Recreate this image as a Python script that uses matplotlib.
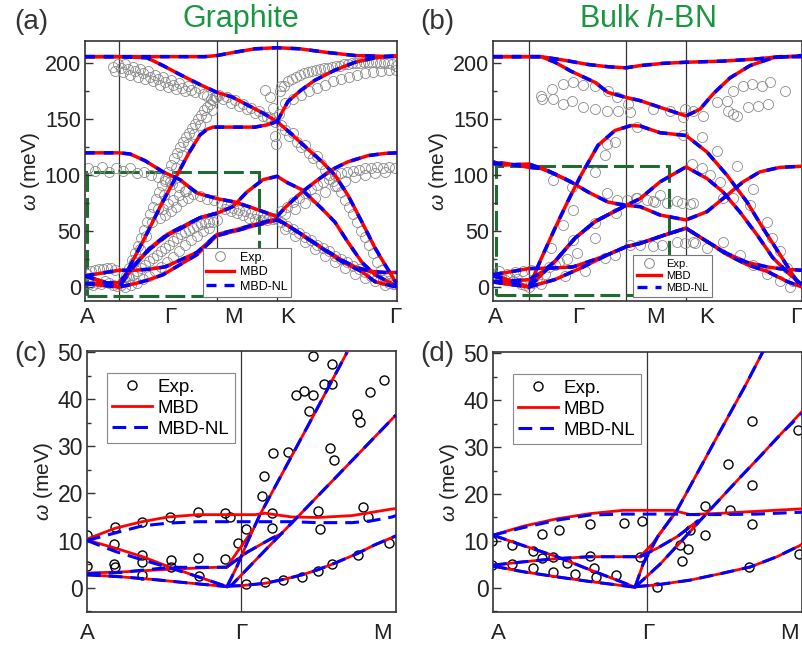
import matplotlib
matplotlib.use('Agg')
import matplotlib.pyplot as plt
from matplotlib.lines import Line2D
from matplotlib.patches import Rectangle
from matplotlib.ticker import MultipleLocator

plt.rcParams['font.family'] = ['Liberation Sans', 'DejaVu Sans']
plt.rcParams['mathtext.fontset'] = 'custom'
plt.rcParams['mathtext.rm'] = 'Liberation Sans'
plt.rcParams['mathtext.it'] = 'Liberation Sans:italic'

# ---------------- (a) graphite, path A-G-M-K-G (k in arbitrary path units) ----------------
a_sym_k = [34, 132, 192]
a_lab_k = [2, 85, 148, 203, 310]
a_labels = ['A', 'Γ', 'M', 'K', 'Γ']

a_bands = [
    ([0, 34, 80, 120, 132, 150, 170, 192, 215, 240, 270, 312],
     [206, 206, 206, 206, 207, 210, 213, 214, 213, 210, 207, 206]),
    ([0, 34, 62, 78, 95, 115, 132, 147, 162, 177, 192, 203, 216, 230, 250, 270, 290, 312],
     [206, 206, 205, 198, 190, 181, 174, 170, 163, 156, 148, 166, 176, 185, 194, 201, 205, 207]),
    ([0, 34, 48, 62, 77, 92, 104, 115, 122, 128, 132, 150, 170, 182, 192, 205, 217, 237, 250, 263, 277, 290, 300, 307, 312],
     [10, 0, 24, 48, 75, 100, 120, 136, 141, 143, 143, 143, 143, 145, 148, 138, 128, 112, 100, 82, 58, 35, 20, 10, 2]),
    ([0, 34, 45, 60, 78, 95, 112, 132, 150, 170, 192, 200, 217, 230, 247, 263, 283, 300, 312],
     [120, 120, 119, 113, 103, 96, 84, 79, 76, 70, 63, 71, 85, 94, 105, 112, 117.5, 119.5, 120]),
    ([0, 34, 50, 65, 82, 95, 115, 132, 148, 162, 178, 192, 203, 217, 237, 250, 263, 277, 290, 307, 312],
     [3, 0, 20, 35, 47, 53, 62, 66, 72, 85, 96, 99, 93, 87, 70, 58, 40, 22, 11, 3, 0]),
    ([0, 34, 50, 62, 78, 95, 112, 120, 132, 150, 170, 192, 203, 217, 237, 257, 277, 290, 312],
     [10, 0, 3, 6, 11, 20, 29, 36, 46, 50, 55, 60, 55, 46.5, 34.6, 22.6, 13.7, 4.7, 0]),
    ([0, 34, 50, 65, 80, 95, 112, 132, 150, 170, 192, 217, 237, 257, 270, 285, 300, 312],
     [10, 15, 15, 16, 18, 24, 31, 47, 51, 56, 61, 47, 35, 24, 18, 14, 13, 13]),
    ([0, 34, 50, 65, 82, 95, 115, 132],
     [3, 4, 20, 34, 46, 52, 62, 66]),
]

a_exp = [
    ([28, 30, 33, 36, 38, 40, 43, 45, 48, 50, 53, 55, 58, 60, 63, 65, 68, 70, 73, 75, 78, 80, 83, 86, 88,
      91, 94, 97, 100, 103, 106, 110, 114, 118, 122, 126, 130],
     [197, 193, 199, 196, 192, 199, 195, 190, 197, 193, 188, 195, 191, 186, 193, 188, 184, 190, 186, 181,
      188, 183, 179, 185, 181, 177, 182, 178, 175, 180, 176, 174, 178, 173, 171, 168, 170]),
    ([134, 138, 142, 146, 150, 154, 158, 162, 166, 170, 174, 178, 182, 186, 190, 190, 191, 188, 194, 185, 180, 196],
     [172, 168, 170, 165, 167, 162, 164, 159, 160, 156, 157, 153, 152, 150, 148, 135, 128, 160, 155, 170, 176, 180]),
    ([195, 199, 203, 207, 211, 215, 219, 223, 227, 231, 235, 239, 243, 247, 251, 255, 259, 263, 267, 271,
      275, 279, 283, 287, 291, 295, 299, 303, 307, 311],
     [175, 180, 184, 186, 188, 190, 191, 192, 193, 194, 195, 196, 196, 197, 198, 198, 199, 199, 200, 200,
      200, 201, 201, 201, 201, 200, 200, 200, 199, 198]),
    ([200, 208, 216, 224, 232, 240, 248, 256, 264, 272, 280, 288, 296, 304, 311],
     [165, 168, 172, 175, 178, 181, 184, 186, 188, 190, 191, 192, 193, 194, 194]),
    ([38, 41, 44, 47, 50, 53, 56, 59, 62, 65, 68, 71, 74, 77, 80, 83, 86, 89, 92, 95, 98, 101, 104, 107,
      110, 113, 116, 119, 122, 125, 128, 131],
     [5, 10, 17, 24, 30, 37, 44, 51, 58, 65, 72, 79, 85, 91, 97, 103, 109, 115, 120, 125, 130, 134, 138,
      142, 146, 150, 154, 158, 161, 164, 167, 170]),
    ([43, 49, 55, 61, 67, 73, 79, 85, 91, 97, 103, 109, 115, 121, 127],
     [10, 22, 34, 46, 58, 70, 82, 94, 106, 118, 128, 137, 145, 152, 158]),
    ([75, 78, 80, 83, 86, 88, 91, 94, 97, 100, 103],
     [62, 70, 64, 74, 68, 78, 72, 82, 77, 86, 80]),
    ([36, 40, 44, 48, 52, 56, 60, 64, 68, 72, 76, 80, 84, 88, 92, 96, 100, 104, 108, 112, 116, 120, 124, 128, 132],
     [2, 5, 8, 11, 14, 17, 20, 23, 26, 29, 32, 35, 38, 41, 44, 47, 49, 51, 53, 55, 56, 57, 58, 58, 60]),
    ([40, 46, 52, 58, 64, 70, 76, 82, 88, 94, 100, 106, 112, 118, 124],
     [0, 2, 4, 7, 10, 14, 18, 22, 27, 32, 38, 42, 46, 50, 53]),
    ([3, 10, 17, 24, 31, 38, 45, 52, 59, 66, 73, 80, 87, 94, 101, 108, 115, 122, 129],
     [106, 104, 107, 103, 106, 104, 106, 102, 103, 100, 98, 95, 92, 89, 86, 83, 81, 79, 78]),
    ([136, 142, 148, 154, 160, 166, 172, 178, 184, 190, 140, 146, 152, 158, 164, 170, 176, 182, 188],
     [75, 73, 71, 69, 68, 66, 65, 64, 63, 62, 70, 68, 66, 64, 62, 61, 60, 60, 61]),
    ([196, 202, 208, 214, 220, 226, 232, 238, 244, 250, 256, 262, 268, 274, 280, 286, 292, 298, 304, 310,
      200, 210, 220, 230, 240, 250, 260, 270, 280, 290, 300],
     [68, 72, 76, 80, 84, 88, 91, 94, 97, 100, 102, 103, 104, 105, 106, 106, 107, 106, 107, 106,
      65, 70, 75, 80, 85, 90, 95, 98, 100, 102, 103]),
    ([196, 202, 208, 214, 220, 226, 232, 238, 244, 250, 256, 262, 268, 274, 280, 286, 292, 298, 304, 310,
      200, 210, 220, 230, 240, 250, 260, 270, 280, 290, 300],
     [58, 55, 52, 48, 45, 42, 38, 35, 32, 28, 25, 22, 19, 16, 13, 10, 8, 6, 4, 3,
      52, 46, 40, 34, 28, 22, 17, 12, 8, 5, 2]),
    ([196, 200, 204, 208, 212, 216, 220, 224, 228, 232, 236, 240, 244, 248, 252, 256, 260, 264, 268, 272,
      276, 280, 284, 288, 292, 296, 300, 304, 308],
     [145, 140, 135, 138, 130, 125, 127, 120, 115, 117, 110, 105, 100, 95, 90, 85, 78, 72, 65, 58, 50, 45,
      38, 30, 22, 15, 10, 5, 3]),
    ([2, 6, 10, 14, 18, 22, 26, 30, 4, 8, 12, 16, 20, 24, 28, 32],
     [12, 14, 15, 16, 16, 17, 17, 15, 3, 2, 4, 3, 5, 4, 2, 1]),
]

# ---------------- (b) bulk h-BN ----------------
b_sym_k = [36, 133, 193]
b_lab_k = [2, 85, 162, 214, 303]
b_labels = ['A', 'Γ', 'M', 'K', 'Γ']

b_bands = [
    ([0, 36, 48, 70, 95, 115, 133, 147, 170, 193, 230, 264, 287, 309],
     [206, 206, 206, 203, 199, 197, 196, 198, 200, 201, 202, 204, 206, 206]),
    ([0, 36, 48, 62, 78, 102, 115, 133, 147, 167, 193, 207, 220, 237, 257, 280, 309],
     [206, 206, 206, 201, 193, 183, 174, 169.6, 166.7, 160.7, 153, 159, 172.6, 187, 198, 205, 207]),
    ([0, 36, 48, 62, 75, 88, 105, 122, 138, 147, 167, 193, 214, 234, 254, 270, 287, 304, 309],
     [10, 0, 25, 52.6, 77, 100, 126.7, 140, 144.4, 144, 138, 135.5, 120.7, 100, 76, 52.6, 29, 5, 0]),
    ([0, 10, 36, 48, 62, 78, 95, 115, 133, 147, 167, 193, 214, 234, 250, 267, 287, 309],
     [110, 111, 107, 106, 101, 94, 85, 76, 73, 71.9, 64.4, 60, 67.4, 82, 94, 103, 107, 108]),
    ([0, 10, 36, 55, 78],
     [112, 109, 110, 104, 94]),
    ([0, 36, 62, 82, 102, 118, 133, 147, 167, 193, 214, 230, 247, 264, 280, 297, 309],
     [4.5, 0, 23, 43.7, 58.5, 66, 73, 79, 94, 107.4, 97, 85, 67, 46.7, 26, 11, 2]),
    ([0, 36, 62, 88, 115, 133, 147, 170, 193, 214, 234, 254, 274, 294, 309],
     [11, 0, 6.7, 17, 29, 36, 39, 46, 52.6, 40.7, 29, 20, 14, 5, 0]),
    ([0, 36, 60, 80, 100, 115, 133, 147, 170, 193, 214, 234, 254, 274, 290, 309],
     [11, 16.5, 17, 18, 24, 29, 36, 39, 46, 52.6, 40.7, 30, 22, 18, 16, 15]),
    ([0, 36, 50, 62, 82, 102, 118, 133],
     [4.5, 6.6, 14, 23, 43.7, 58.5, 66, 73]),
]

b_exp = [
    ([48, 49, 59, 60, 70, 70, 80, 79, 90, 90, 102, 102, 115, 114, 124, 125, 135, 137, 160, 177, 192, 190,
      200, 210, 224, 234, 235, 240, 244, 255, 265, 275, 240, 250, 259, 269, 277, 292],
     [171, 168, 177, 168, 181.5, 163.7, 183, 166.7, 181, 160.7, 180, 159.3, 175.6, 157.8, 169.6, 157.8,
      163.7, 156.3, 159.3, 157.8, 159.3, 151.8, 157.8, 153.3, 165.2, 166.7, 157.8, 154.8, 153.3, 160.7,
      162.2, 163.7, 175.6, 180, 181.5, 180, 183, 175.6]),
    ([60, 79, 102, 112, 122, 144, 143, 123, 102, 80, 70, 80, 58, 102, 122, 112, 92, 72, 114, 114, 124, 134,
      144, 154, 162, 174, 189, 200, 137, 147, 160, 169, 192, 202],
     [95.6, 89.6, 103, 117.8, 129.6, 143, 79.3, 66, 57, 68.9, 55.6, 42.2, 34.8, 43.7, 28.9, 26, 14, 9.6,
      128, 83.7, 77.8, 77.8, 79.3, 77.8, 76.3, 74.8, 74.8, 74.8, 37.8, 37.8, 36.3, 37.8, 39.3, 39.3]),
    ([199, 209, 217, 227, 244, 230, 240, 260, 257, 274, 279, 287, 294, 300, 230, 247, 260, 274, 287, 297,
      160, 167, 184, 197, 184, 200, 214, 190, 209, 224],
     [110.4, 106, 100, 94, 108, 79.6, 79.6, 88, 73.3, 58.5, 43.7, 31.9, 17, 5.2, 40.7, 28.9, 20, 11.2,
      5.2, 0, 76.7, 82.6, 76.7, 73.8, 40.7, 40.7, 34.8, 135.6, 134, 122]),
    ([0, 4, 8, 12, 16, 20, 24, 28, 32, 36, 40, 44, 48, 6, 14, 22, 30, 38, 52, 56, 62, 66, 74, 84],
     [12, 8, 10, 6, 9, 5, 7, 3, 2, 0, 4, 8, 3, 14, 12, 13, 14, 15, 12, 18, 20, 22, 25, 30]),
]

# ---------------- (c) graphite low energy, A-G-M ----------------
c_sym_k = [154]
c_lab_k = [0, 154, 295]
c_labels = ['A', 'Γ', 'M']

c_mbd = [
    ([0, 28, 55, 81, 111, 138, 155, 168, 178, 205, 231, 265, 285, 305, 309],
     [10.3, 12.6, 14, 15, 15.5, 15.5, 15.5, 15.5, 15.8, 15, 14.9, 15.3, 16, 16.7, 16.8]),
    ([0, 28, 55, 81, 111, 140], [10.1, 8.4, 6.6, 4.5, 2.3, 0.2]),
    ([0, 33, 83, 140], [3.1, 3.3, 3.9, 4.4]),
    ([0, 33, 67, 100, 140], [2.7, 2.3, 1.7, 1.0, 0.2]),
    ([140, 154, 178, 198, 215, 231, 248, 271, 288, 308, 309],
     [0.3, 0.4, 0.9, 1.8, 2.7, 3.8, 5.2, 7.3, 9.1, 10.9, 11]),
    ([140, 150, 160, 173, 203, 228, 260], [0.2, 4.5, 9.5, 15.5, 27.3, 37.2, 50]),
    ([140, 150, 165], [4.4, 7.5, 12]),
    ([140, 145, 178, 211, 260, 309], [0.2, 0.6, 7.9, 15.1, 25.9, 36.7]),
    ([140, 160, 185, 195], [4.4, 7.5, 10.5, 11.5]),
]
c_nl = [
    ([0, 28, 55, 81, 111, 138, 155, 180, 205, 231, 265, 285, 305, 309],
     [10, 11.6, 13.1, 13.7, 14, 14, 14, 14, 14, 13.8, 13.8, 14.2, 15, 15.3]),
    ([0, 28, 55, 81, 111, 140], [10, 7.7, 5.9, 4.3, 2.3, 0.2]),
    ([0, 33, 83, 140], [2.9, 3.2, 4.3, 4.3]),
    ([0, 33, 67, 100, 140], [2.7, 2.3, 1.7, 1.0, 0.2]),
    ([140, 154, 178, 198, 215, 231, 248, 271, 288, 308, 309],
     [0.3, 0.4, 0.9, 1.8, 2.7, 3.8, 5.2, 7.3, 9.1, 10.9, 11]),
    ([140, 150, 160, 173, 203, 228, 260], [0.2, 4.5, 9.5, 15.5, 27.3, 37.2, 50]),
    ([140, 145, 178, 211, 260, 309], [0.2, 0.6, 7.9, 15.1, 25.9, 36.7]),
    ([140, 160, 185, 195], [4.4, 7.5, 10.5, 11.5]),
]
c_exp_k = [0, 0, 28, 27, 27, 28, 55, 55, 55, 55, 83, 84, 84, 111, 111, 112, 138, 143, 138, 151, 159, 159,
           175, 177, 186, 185, 185, 178, 196, 201, 215, 231, 233, 231, 243, 247, 245, 271, 276, 281, 302,
           226, 245, 245, 237, 209, 217, 226, 222, 270, 273, 283, 297]
c_exp_v = [11.2, 4.5, 12.9, 9.3, 5.0, 4.3, 13.9, 7.0, 5.5, 2.7, 15.1, 5.9, 4.4, 16.0, 6.3, 2.5, 15.8, 15.1,
           6.0, 9.4, 12.4, 0.7, 19.5, 23.8, 28.6, 15.8, 12.6, 1.1, 1.6, 28.9, 2.2, 16.3, 12.4, 3.6, 29.7,
           27.2, 5.0, 7.0, 17.2, 15.0, 9.4, 49.3, 47.5, 43.3, 43.3, 41.0, 41.7, 41.0, 37.5, 37.0, 35.3,
           41.5, 44.2]

# ---------------- (d) h-BN low energy ----------------
d_sym_k = [154]
d_lab_k = [5, 155, 296]
d_labels = ['A', 'Γ', 'M']

d_mbd = [
    ([0, 30, 64, 97, 130, 154, 180, 197, 230, 264, 307, 309],
     [11.2, 13.1, 14.7, 15.8, 16.5, 16.5, 16.5, 15.6, 15.9, 16.3, 16.8, 16.8]),
    ([0, 30, 64, 97, 124, 142], [11.2, 9.0, 6.6, 3.8, 1.6, 0.1]),
    ([0, 30, 64, 97, 147], [4.8, 5.5, 6.2, 6.6, 6.6]),
    ([0, 30, 64, 97, 142], [4.6, 3.4, 2.3, 1.3, 0.1]),
    ([142, 164, 197, 230, 257, 284, 307, 309], [0.2, 0.6, 1.6, 3.1, 4.4, 6.6, 9.0, 9.3]),
    ([142, 150, 165, 184, 207, 230, 252, 270], [0.1, 5, 11, 16.5, 25.5, 34.5, 43, 50.4]),
    ([147, 160, 172, 184], [6.6, 9.5, 13, 16.5]),
    ([142, 167, 187, 207, 227, 247, 267, 287, 309], [0.1, 5, 9.6, 14.3, 18.9, 23.5, 28, 32.6, 37.6]),
    ([147, 165, 185, 205], [6.6, 8.5, 11, 14.3]),
]
d_nl = [
    ([0, 30, 64, 97, 130, 154, 180, 197, 230, 264, 297, 309],
     [11.2, 12.8, 14.4, 15.5, 15.7, 15.7, 15.7, 15.6, 15.6, 15.7, 16, 16.1]),
    ([0, 30, 64, 97, 124, 142], [11.2, 9.0, 6.6, 3.8, 1.6, 0.1]),
    ([0, 30, 64, 97, 147], [4.8, 5.5, 6.2, 6.6, 6.6]),
    ([0, 30, 64, 97, 142], [4.6, 3.4, 2.3, 1.3, 0.1]),
    ([142, 164, 197, 230, 257, 284, 307, 309], [0.2, 0.6, 1.6, 3.1, 4.4, 6.6, 9.0, 9.3]),
    ([142, 150, 165, 184, 207, 230, 252, 270], [0.1, 5, 11, 16.5, 25.5, 34.5, 43, 50.4]),
    ([142, 167, 187, 207, 227, 247, 267, 287, 309], [0.1, 5, 9.6, 14.3, 18.9, 23.5, 28, 32.6, 37.2]),
    ([147, 165, 185, 205], [6.6, 8.5, 11, 14.3]),
]
d_exp_k = [-1, -1, 19, 19, 40, 40, 49, 49, 60, 60, 66, 74, 82, 97, 97, 101, 103, 123, 131, 149, 147, 164,
           187, 189, 195, 197, 212, 212, 237, 235, 259, 259, 256, 259, 305, 306]
d_exp_v = [10.0, 4.8, 9.0, 5.0, 7.8, 4.1, 11.5, 6.4, 6.6, 3.4, 12.4, 5.2, 3.0, 13.5, 6.7, 4.1, 2.3, 2.7,
           13.8, 14.3, 6.6, 0.1, 9.0, 5.7, 8.3, 12.4, 17.5, 11.2, 16.5, 26.4, 21.9, 13.6, 4.4, 35.5, 33.6,
           7.1]

# zoom-in boxes drawn on the upper panels (k0, k1, v0, v1)
a_box = (1.5, 174, -8, 103)
b_box = (2.7, 176, -7.5, 108)

RED = '#ff0000'
BLUE = '#0000ff'
GREEN_T = '#1a9641'
GREEN_B = '#1f6b30'
TXT = '#222222'

fig = plt.figure(figsize=(8.03, 6.46), dpi=100)
W, H = 803, 646
ax_a = fig.add_axes([85 / W, 1 - 301 / H, 312 / W, 260 / H])
ax_b = fig.add_axes([493 / W, 1 - 301 / H, 309 / W, 260 / H])
ax_c = fig.add_axes([87 / W, 1 - 612 / H, 309 / W, 261 / H])
ax_d = fig.add_axes([493 / W, 1 - 612 / H, 309 / W, 260 / H])


def style(ax, xmax, ylim, major, minor, sym, lab_k, labels, fs, pad):
    ax.set_xlim(0, xmax)
    ax.set_ylim(*ylim)
    for s in ax.spines.values():
        s.set_color('#333333')
        s.set_linewidth(1.2)
    for k in sym:
        ax.axvline(k, color='#333333', lw=0.9, zorder=1)
    ax.yaxis.set_major_locator(MultipleLocator(major))
    ax.yaxis.set_minor_locator(MultipleLocator(minor))
    ax.tick_params(axis='y', which='both', direction='in', labelsize=fs, colors='#333333',
                   labelcolor=TXT, width=1, pad=3)
    ax.tick_params(axis='y', which='major', length=6)
    ax.tick_params(axis='y', which='minor', length=3)
    ax.set_xticks(lab_k)
    ax.set_xticklabels(labels)
    ax.tick_params(axis='x', length=0, pad=pad, labelsize=16, labelcolor=TXT)
    ax.set_ylabel(r'$\omega$ (meV)', fontsize=15, color=TXT, labelpad=2)


def draw_top(ax, bands, exp, box, leg_anchor, leg_fs):
    for k, v in exp:
        ax.plot(k, v, 'o', ms=7.2, mfc='none', mec='#8a8a8a', mew=0.6, zorder=2)
    k0, k1, v0, v1 = box
    ax.add_patch(Rectangle((k0, v0), k1 - k0, v1 - v0, fill=False, ec=GREEN_B, lw=2.2,
                           ls=(0, (6.5, 2)), zorder=1.5))
    for k, v in bands:
        ax.plot(k, v, color=RED, lw=2.5, zorder=3, solid_capstyle='butt')
    for k, v in bands:
        ax.plot(k, v, color=BLUE, lw=2.5, dashes=(2.8, 2.6), zorder=4)
    handles = [Line2D([], [], ls='none', marker='o', ms=7, mfc='none', mec='#858585', mew=0.7),
               Line2D([], [], color=RED, lw=2.4),
               Line2D([], [], color=BLUE, lw=2.4, dashes=(3, 2.4))]
    leg = ax.legend(handles, ['Exp.', 'MBD', 'MBD-NL'], loc='lower left', bbox_to_anchor=leg_anchor,
                    fontsize=leg_fs, frameon=True, fancybox=False, framealpha=1, edgecolor='#777777',
                    handlelength=2.2, handletextpad=0.5, borderpad=0.3, labelspacing=0.2,
                    borderaxespad=0)
    leg.get_frame().set_linewidth(0.8)
    leg.set_zorder(6)


def draw_low(ax, mbd, nl, ek, ev):
    ax.plot(ek, ev, 'o', ms=6.5, mfc='none', mec='black', mew=1.0, zorder=2)
    for k, v in mbd:
        ax.plot(k, v, color=RED, lw=2.0, zorder=3)
    for k, v in nl:
        ax.plot(k, v, color=BLUE, lw=2.2, dashes=(4.5, 2.6), zorder=4)
    handles = [Line2D([], [], ls='none', marker='o', ms=6.5, mfc='none', mec='black', mew=1.0),
               Line2D([], [], color=RED, lw=2.0),
               Line2D([], [], color=BLUE, lw=2.2, dashes=(4.5, 2.6))]
    leg = ax.legend(handles, ['Exp.', 'MBD', 'MBD-NL'], loc='upper left', bbox_to_anchor=(0.064, 0.915),
                    fontsize=13.5, frameon=True, fancybox=False, framealpha=1, edgecolor='#888888',
                    handlelength=2.1, handletextpad=0.3, borderpad=0.3, labelspacing=0.2,
                    borderaxespad=0)
    leg.get_frame().set_linewidth(0.8)
    leg.set_zorder(6)


style(ax_a, 312, (-12.5, 220), 50, 25, a_sym_k, a_lab_k, a_labels, 15.5, 4)
style(ax_b, 309, (-12.5, 220), 50, 25, b_sym_k, b_lab_k, b_labels, 15.5, 4)
style(ax_c, 309, (-5.2, 50.3), 10, 5, c_sym_k, c_lab_k, c_labels, 16.5, 8)
style(ax_d, 309, (-5.2, 50.3), 10, 5, d_sym_k, d_lab_k, d_labels, 16.5, 8)

draw_top(ax_a, a_bands, a_exp, a_box, (0.377, 0.017), 9)
draw_top(ax_b, b_bands, b_exp, b_box, (0.454, 0.017), 8)
draw_low(ax_c, c_mbd, c_nl, c_exp_k, c_exp_v)
draw_low(ax_d, d_mbd, d_nl, d_exp_k, d_exp_v)

fig.text(241 / W, 1 - 19 / H, 'Graphite', color=GREEN_T, fontsize=22, ha='center', va='center')
fig.text(647 / W, 1 - 19 / H, 'Bulk $h$-BN', color=GREEN_T, fontsize=22, ha='center', va='center')
for x, y, s in [(31, 22, '(a)'), (437, 22, '(b)'), (31, 354, '(c)'), (437, 354, '(d)')]:
    fig.text(x / W, 1 - y / H, s, fontsize=20, color='#333333', ha='center', va='center')

fig.savefig('out.png', dpi=100)
